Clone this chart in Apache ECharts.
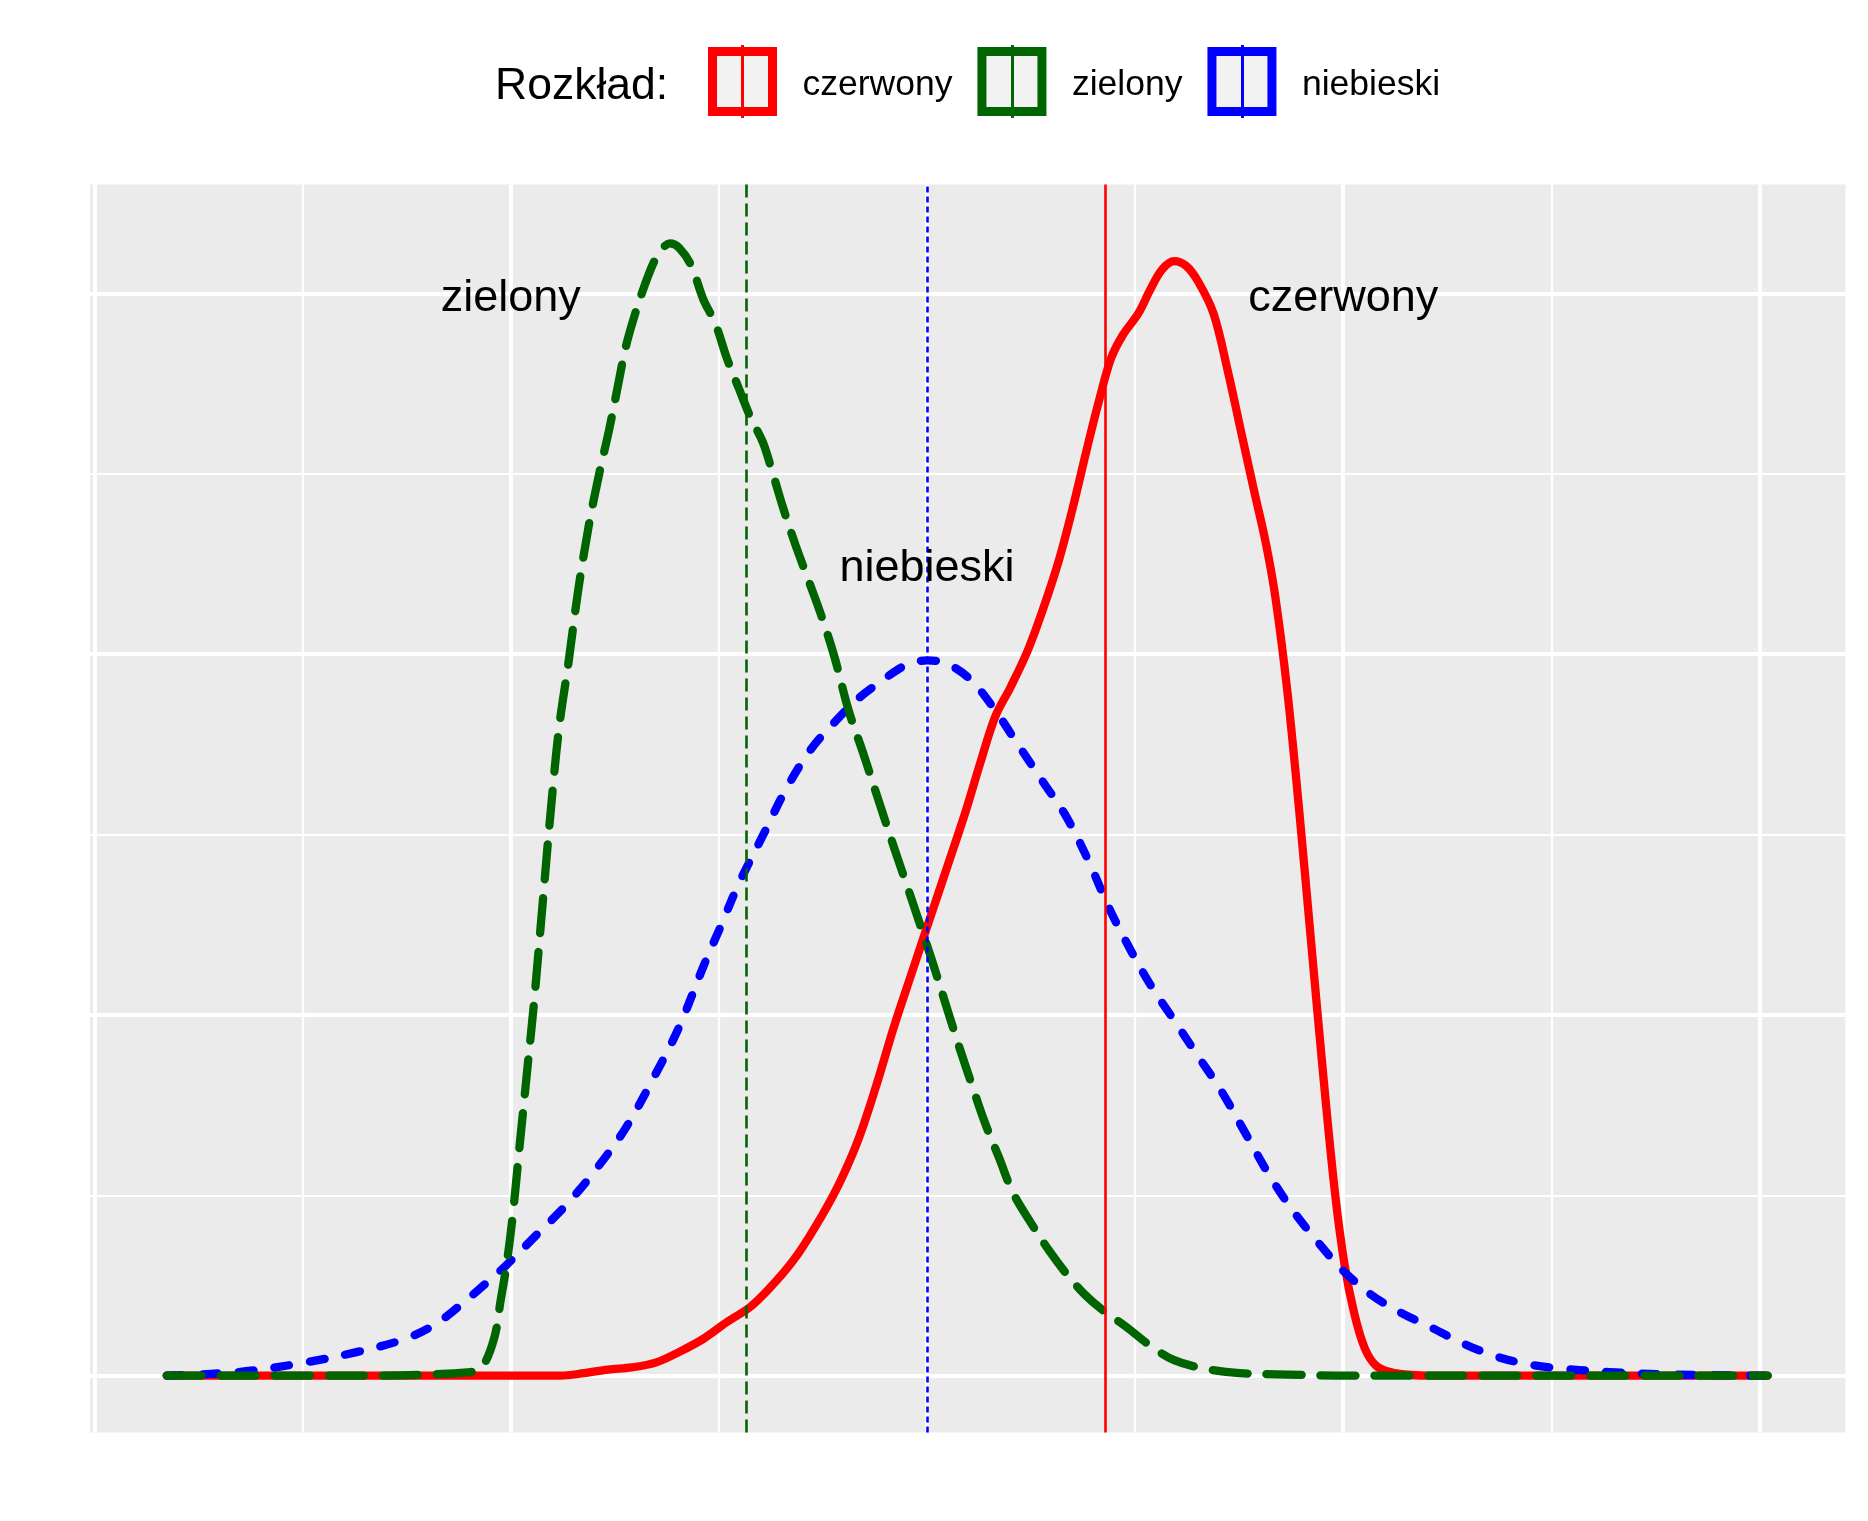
<!DOCTYPE html>
<html>
<head>
<meta charset="utf-8">
<script src="https://cdn.jsdelivr.net/npm/echarts@6/dist/echarts.min.js"></script>
<style>
html,body{margin:0;padding:0;background:#fff;}
#chart{width:1868px;height:1521px;}
</style>
</head>
<body>
<div id="chart"></div>
<script>
// ---- data ----
const categories = ['czerwony', 'zielony', 'niebieski'];
const legendTitle = 'Rozkład:';

const redX = [-7.306,-5.473,-3.525,-3.296,-3.067,-2.838,-2.609,-2.380,-2.150,-1.921,-1.692,-1.463,-1.234,-1.005,-0.833,-0.661,-0.489,-0.317,-0.146,0.026,0.198,0.370,0.508,0.656,0.805,0.966,1.115,1.264,1.401,1.538,1.653,1.767,1.882,2.031,2.146,2.260,2.375,2.489,2.604,2.753,2.890,3.028,3.142,3.257,3.348,3.463,3.578,3.692,3.807,3.921,4.013,4.104,4.207,4.322,4.494,4.837,8.079];
const redY = [0,0,0,0.0007,0.0017,0.0023,0.0036,0.0066,0.0102,0.0149,0.0192,0.0258,0.0340,0.0446,0.0539,0.0654,0.0803,0.0968,0.1117,0.1266,0.1414,0.1563,0.1695,0.1827,0.1910,0.2009,0.2125,0.2257,0.2406,0.2571,0.2703,0.2819,0.2885,0.2945,0.3011,0.3067,0.3090,0.3077,0.3034,0.2945,0.2786,0.2604,0.2455,0.2307,0.2158,0.1897,0.1563,0.1200,0.0836,0.0506,0.0307,0.0175,0.0076,0.0026,0.0007,0,0];

const greenX = [-7.306,-5.473,-4.384,-4.270,-4.155,-4.098,-4.041,-3.983,-3.915,-3.846,-3.777,-3.697,-3.617,-3.537,-3.446,-3.354,-3.251,-3.147,-3.056,-2.976,-2.895,-2.804,-2.712,-2.620,-2.540,-2.471,-2.380,-2.265,-2.150,-2.036,-1.921,-1.807,-1.692,-1.578,-1.486,-1.383,-1.269,-1.143,-1.017,-0.890,-0.753,-0.616,-0.467,-0.317,-0.180,-0.065,0.049,0.175,0.301,0.427,0.553,0.691,0.828,1.000,1.172,1.344,1.516,1.687,1.916,2.146,2.375,2.661,3.005,3.463,4.036,5.983,8.079];
const greenY = [0,0,0.0010,0.0026,0.0109,0.0208,0.0307,0.0440,0.0638,0.0836,0.1034,0.1299,0.1563,0.1794,0.1976,0.2174,0.2356,0.2505,0.2621,0.2736,0.2852,0.2945,0.3024,0.3090,0.3126,0.3139,0.3126,0.3077,0.2984,0.2918,0.2819,0.2736,0.2654,0.2588,0.2505,0.2406,0.2307,0.2208,0.2108,0.1993,0.1844,0.1728,0.1596,0.1464,0.1348,0.1249,0.1150,0.1034,0.0919,0.0810,0.0704,0.0605,0.0506,0.0423,0.0347,0.0281,0.0225,0.0182,0.0135,0.0083,0.0043,0.0020,0.0007,0.0003,0,0,0];

const blueX = [-7.306,-6.618,-6.046,-5.473,-5.015,-4.728,-4.499,-4.270,-4.041,-3.754,-3.468,-3.181,-2.895,-2.609,-2.380,-2.150,-1.978,-1.807,-1.578,-1.349,-1.120,-0.890,-0.661,-0.432,-0.203,0.003,0.198,0.427,0.656,0.885,1.115,1.344,1.573,1.745,1.951,2.146,2.375,2.604,2.833,3.062,3.291,3.520,3.749,3.978,4.265,4.551,4.837,5.124,5.410,5.696,5.983,6.556,7.129,8.079];
const blueY = [0,0.0010,0.0033,0.0066,0.0102,0.0142,0.0192,0.0248,0.0307,0.0390,0.0473,0.0572,0.0687,0.0836,0.0968,0.1134,0.1249,0.1365,0.1497,0.1629,0.1735,0.1811,0.1877,0.1927,0.1970,0.1983,0.1973,0.1927,0.1844,0.1745,0.1646,0.1547,0.1414,0.1299,0.1183,0.1084,0.0985,0.0886,0.0787,0.0671,0.0555,0.0456,0.0373,0.0297,0.0225,0.0175,0.0135,0.0093,0.0059,0.0036,0.0023,0.0010,0.0003,0];

// vertical mean lines (czerwony, zielony, niebieski)
const meanX = [1.707, -1.74, 0];

// text annotations
const labelText = ['zielony', 'czerwony', 'niebieski'];
const labelX = [-4, 4, 0];
const labelY = [0.3, 0.3, 0.225];

// axis breaks (no labels shown)
const xMajorBreaks = [-8, -4, 0, 4, 8];
const xMinorBreaks = [-6, -2, 2, 6];
const yMajorBreaks = [0, 0.1, 0.2, 0.3];
const yMinorBreaks = [0.05, 0.15, 0.25];
const xLimits = [-8.044, 8.827];
const yLimits = [-0.01573, 0.3302];

// ---- build ----
const FONT = "'Liberation Sans', Arial, Helvetica, sans-serif";
const colors = ['#FF0000', '#006400', '#0000FF'];
const zip = (xs, ys) => xs.map((x, i) => [x, ys[i]]);
const curves = [zip(redX, redY), zip(greenX, greenY), zip(blueX, blueY)];
const curveWidth = 8.3;
const curveDash = ['solid', [35, 19], [15, 21]];
const curveZ = [2, 4, 3];
const vlineStyle = [
  {color: colors[0], width: 2.6, type: 'solid'},
  {color: colors[1], width: 2.6, type: [13, 6]},
  {color: colors[2], width: 2.6, type: [6, 4]}
];

const gridLines = [];
xMajorBreaks.forEach(v => gridLines.push({xAxis: v, lineStyle: {color: '#FFFFFF', width: 4, type: 'solid'}}));
xMinorBreaks.forEach(v => gridLines.push({xAxis: v, lineStyle: {color: '#FFFFFF', width: 2.2, type: 'solid'}}));
yMajorBreaks.forEach(v => gridLines.push({yAxis: v, lineStyle: {color: '#FFFFFF', width: 4, type: 'solid'}}));
yMinorBreaks.forEach(v => gridLines.push({yAxis: v, lineStyle: {color: '#FFFFFF', width: 2.2, type: 'solid'}}));

const series = [];
series.push({
  name: '__grid', type: 'line', data: [], silent: true,
  markLine: {z: 1, silent: true, symbol: 'none', animation: false,
    label: {show: false}, emphasis: {disabled: true}, data: gridLines}
});
categories.forEach((c, i) => {
  series.push({
    name: c, type: 'line', data: curves[i], showSymbol: false, symbol: 'none',
    smooth: 0.35, z: curveZ[i], silent: true,
    lineStyle: {color: colors[i], width: curveWidth, type: curveDash[i], cap: 'round', join: 'round'},
    itemStyle: {color: colors[i]},
    markLine: {z: 5, silent: true, symbol: 'none', animation: false,
      label: {show: false}, emphasis: {disabled: true},
      data: [{xAxis: meanX[i], lineStyle: vlineStyle[i]}]}
  });
});
series.push({
  name: '__labels', type: 'scatter', silent: true, z: 6,
  symbolSize: 1, itemStyle: {color: 'rgba(0,0,0,0)'},
  data: labelText.map((t, i) => ({value: [labelX[i], labelY[i]], name: t})),
  label: {show: true, position: 'inside', offset: [0, 5], formatter: p => p.name,
    color: '#000', fontSize: 45, fontFamily: FONT, opacity: 1}
});

const keyCenters = [742.5, 1012.5, 1242.5];
const chart = echarts.init(document.getElementById('chart'), null, {renderer: 'canvas'});
chart.setOption({
  animation: false,
  backgroundColor: '#FFFFFF',
  title: {text: legendTitle, left: 495, top: 64, padding: 0,
    textStyle: {fontSize: 44.5, fontWeight: 'normal', color: '#000', fontFamily: FONT}},
  legend: {
    left: 708, top: 47, padding: 0, orient: 'horizontal',
    itemWidth: 60, itemHeight: 60, itemGap: 25, selectedMode: false,
    data: categories.map((c, i) => ({name: c, icon: 'rect',
      itemStyle: {color: '#F2F2F2', borderColor: colors[i], borderWidth: 9}})),
    formatter: n => '{s| }' + n,
    textStyle: {fontSize: 35.5, color: '#000', fontFamily: FONT,
      rich: {s: {width: 25, fontSize: 35.5}}, padding: [8, 0, 0, 0]}
  },
  graphic: keyCenters.map((cx, i) => ({type: 'line', z: 100, silent: true,
    shape: {x1: cx, y1: 45, x2: cx, y2: 118}, style: {stroke: colors[i], lineWidth: 3}})),
  grid: {left: 90, right: 22.5, top: 184.6, bottom: 88.6, show: true,
    backgroundColor: '#EBEBEB', borderWidth: 0},
  xAxis: {type: 'value', min: xLimits[0], max: xLimits[1],
    axisLine: {show: false}, axisTick: {show: false}, axisLabel: {show: false}, splitLine: {show: false}},
  yAxis: {type: 'value', min: yLimits[0], max: yLimits[1],
    axisLine: {show: false}, axisTick: {show: false}, axisLabel: {show: false}, splitLine: {show: false}},
  series: series
});
</script>
</body>
</html>
